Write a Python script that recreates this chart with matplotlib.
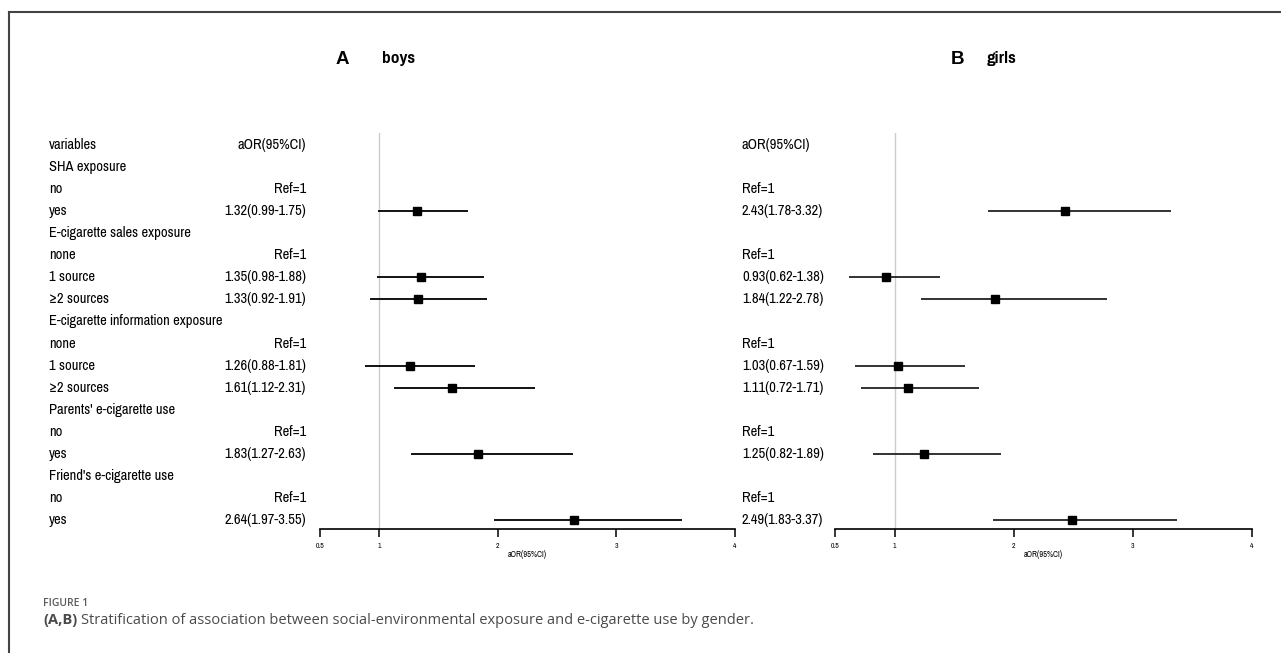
import matplotlib
matplotlib.use("Agg")
import matplotlib.pyplot as plt
import matplotlib.transforms as mtransforms
from matplotlib.font_manager import findfont, FontProperties
from matplotlib.lines import Line2D

# ---------------- data ----------------
row_labels = ["variables", "SHA exposure", "no", "yes",
              "E-cigarette sales exposure", "none", "1 source", "≥2 sources",
              "E-cigarette information exposure", "none", "1 source", "≥2 sources",
              "Parents' e-cigarette use", "no", "yes",
              "Friend's e-cigarette use", "no", "yes"]
ref_rows = [2, 5, 9, 13, 16]
est_rows = [3, 6, 7, 10, 11, 14, 17]

boys_or = [1.32, 1.35, 1.33, 1.26, 1.61, 1.83, 2.64]
boys_lo = [0.99, 0.98, 0.92, 0.88, 1.12, 1.27, 1.97]
boys_hi = [1.75, 1.88, 1.91, 1.81, 2.31, 2.63, 3.55]

girls_or = [2.43, 0.93, 1.84, 1.03, 1.11, 1.25, 2.49]
girls_lo = [1.78, 0.62, 1.22, 0.67, 0.72, 0.82, 1.83]
girls_hi = [3.32, 1.38, 2.78, 1.59, 1.71, 1.89, 3.37]

xticks = [0.5, 1, 2, 3, 4]
xtick_labels = ["0.5", "1", "2", "3", "4"]
# --------------------------------------

W, H = 1281, 653
fig = plt.figure(figsize=(W / 100, H / 100), dpi=100)


def pick(cands):
    for c in cands:
        try:
            findfont(FontProperties(family=c), fallback_to_default=False)
            return c
        except Exception:
            pass
    return "DejaVu Sans"


narrow = pick(["Liberation Sans Narrow", "Pragati Narrow", "Roboto Condensed",
               "Archivo Narrow", "Liberation Sans"])
body_family = [narrow, "DejaVu Sans"]
arial = [pick(["Liberation Sans", "Arimo"]), "DejaVu Sans"]


def fx(px):
    return px / W


def fy(py):
    return 1 - py / H


# row geometry (pixels)
y_first, y_last = 145, 520
step = (y_last - y_first) / (len(row_labels) - 1)
top_px, axis_px = 133, 529
idx_top = (top_px - y_first) / step
idx_bot = (axis_px - y_first) / step

panels = [
    dict(x0=320, x1=735, orv=boys_or, lo=boys_lo, hi=boys_hi, col_x=306, col_ha="right",
         letter="A", letter_x=342, name="boys", name_x=382, lcolor="black"),
    dict(x0=835, x1=1252, orv=girls_or, lo=girls_lo, hi=girls_hi, col_x=742, col_ha="left",
         letter="B", letter_x=957, name="girls", name_x=987, lcolor="#222222"),
]

fs = 11.4
for i, p in enumerate(panels):
    ax = fig.add_axes([fx(p["x0"]), fy(axis_px), fx(p["x1"] - p["x0"]), (axis_px - top_px) / H])
    ax.set_xlim(0.5, 4)
    ax.set_ylim(idx_bot, idx_top)
    ax.patch.set_alpha(0)
    for s in ["top", "right", "left"]:
        ax.spines[s].set_visible(False)
    ax.spines["bottom"].set_linewidth(1.2)
    ax.set_yticks([])
    ax.set_xticks(xticks)
    ax.set_xticklabels(xtick_labels, fontsize=6, family=body_family)
    ax.tick_params(axis="x", length=6, width=1.1, pad=4)
    ax.set_xlabel("aOR(95%CI)", fontsize=6.5, family=body_family, labelpad=1)
    ax.axvline(1, color="#cccccc", lw=1.0, zorder=1)
    for r, o, l, h in zip(est_rows, p["orv"], p["lo"], p["hi"]):
        ax.plot([l, h], [r, r], color=p["lcolor"], lw=1.3, solid_capstyle="butt", zorder=2)
        ax.plot([o], [r], marker="s", ms=5.5, color="black", zorder=3, clip_on=False)

    tr = mtransforms.blended_transform_factory(fig.transFigure, ax.transData)
    if i == 0:
        for r, lab in enumerate(row_labels):
            ax.text(fx(49), r, lab, transform=tr, ha="left", va="center",
                    fontsize=fs, family=body_family, clip_on=False)
    col = {0: "aOR(95%CI)"}
    for r in ref_rows:
        col[r] = "Ref=1"
    for r, o, l, h in zip(est_rows, p["orv"], p["lo"], p["hi"]):
        col[r] = f"{o:.2f}({l:.2f}-{h:.2f})"
    for r, s in col.items():
        ax.text(fx(p["col_x"]), r, s, transform=tr, ha=p["col_ha"], va="center",
                fontsize=fs, family=body_family, clip_on=False)

    fig.text(fx(p["letter_x"]), fy(59), p["letter"], ha="center", va="center",
             fontsize=13.5, fontweight="bold", family=arial)
    fig.text(fx(p["name_x"]), fy(58), p["name"], ha="left", va="center",
             fontsize=13.5, fontweight="bold", family=body_family)

# outer frame (top and left lines)
fig.add_artist(Line2D([fx(9), 1.0], [fy(12), fy(12)], color="#444444", lw=1.5,
                      transform=fig.transFigure))
fig.add_artist(Line2D([fx(9), fx(9)], [fy(12), 0.0], color="#444444", lw=1.5,
                      transform=fig.transFigure))

cap_family = ["Open Sans", "DejaVu Sans"]
fig.text(fx(43), fy(603), "FIGURE 1", ha="left", va="center", fontsize=7.5,
         fontweight="semibold", color="#5a5a5a", family=cap_family)
t1 = fig.text(fx(43), fy(620), "(A,B)", ha="left", va="center", fontsize=10.5,
              fontweight="bold", color="#4a4a4a", family=cap_family)
fig.canvas.draw()
bb = t1.get_window_extent()
fig.text(bb.x1 / W + 4 / W, fy(620),
         "Stratification of association between social-environmental exposure and e-cigarette use by gender.",
         ha="left", va="center", fontsize=10.5, color="#4a4a4a", family=cap_family)

fig.savefig("out.png", dpi=100)
